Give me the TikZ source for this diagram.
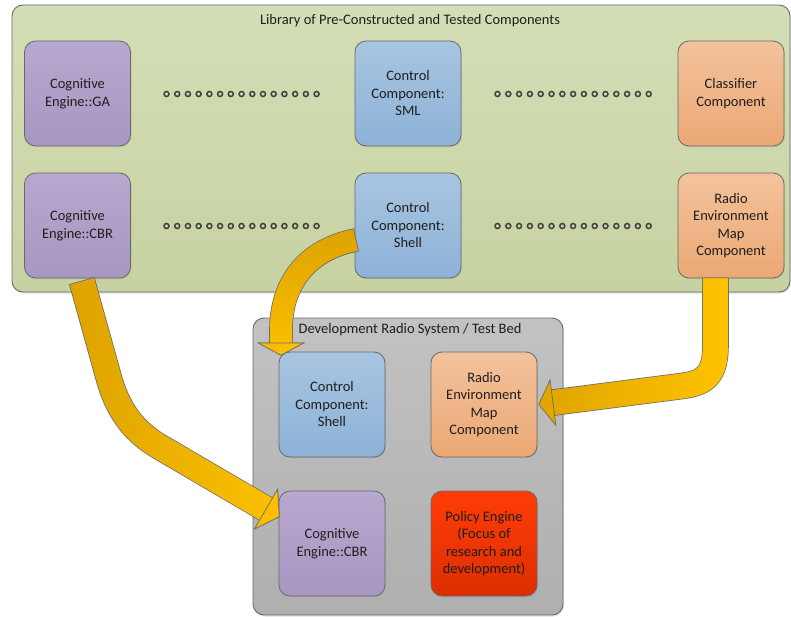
\documentclass[tikz,border=0pt]{standalone}
\usepackage{fontspec}
\setmainfont{Carlito}
\usetikzlibrary{arrows.meta,fadings,shadows,calc}

\definecolor{edge}{HTML}{6A6A6A}
\definecolor{txt}{HTML}{1E1E1E}
\definecolor{libtop}{HTML}{D4DEB6}
\definecolor{libbot}{HTML}{C7D2A2}
\definecolor{devtop}{HTML}{C2C2C2}
\definecolor{devbot}{HTML}{AFAFAF}
\definecolor{purtop}{HTML}{B8A8CF}
\definecolor{purbot}{HTML}{A797C1}
\definecolor{blutop}{HTML}{A8C5E1}
\definecolor{blubot}{HTML}{8DB2D7}
\definecolor{orgtop}{HTML}{F3C29C}
\definecolor{orgbot}{HTML}{EBA874}
\definecolor{redtop}{HTML}{FF3C06}
\definecolor{redbot}{HTML}{DD2E00}
\definecolor{darkgold}{HTML}{DEA300}
\definecolor{brightgold}{HTML}{FFC300}

\tikzset{
  label text/.style={font=\fontsize{14.5}{17.5}\selectfont, text=txt},
  container/.style={draw=edge, line width=0.9pt, rounded corners=11pt,
    drop shadow={shadow xshift=1pt, shadow yshift=-1.5pt, opacity=0.25}},
  comp/.style={draw=edge, line width=0.8pt, rounded corners=11pt,
    minimum width=106pt, minimum height=105pt, align=center, inner sep=2pt,
    label text,
    drop shadow={shadow xshift=1pt, shadow yshift=-1.2pt, opacity=0.2}},
  cogbox/.style={comp, top color=purtop, bottom color=purbot},
  ctrlbox/.style={comp, top color=blutop, bottom color=blubot},
  envbox/.style={comp, top color=orgtop, bottom color=orgbot},
  policybox/.style={comp, top color=redtop, bottom color=redbot},
  ellipsisdot/.style={draw=txt!85, line width=1.5pt},
  flowrim/.style={edge, line width=26.6pt, shorten <=-0.8pt},
  flowbase/.style={darkgold, line width=25pt,
    -{Triangle[length=#1, width=48pt, fill=darkgold, color=edge, line width=0.7pt]}},
  flowglow/.style={brightgold, line width=25pt,
    -{Triangle[length=#1, width=48pt, fill=brightgold, color=edge, line width=0.7pt]}},
}

\begin{document}
\begin{tikzpicture}[x=1pt, y=-1pt]
  \useasboundingbox (0,0) rectangle (791,617);

  % containers
  \node[container, top color=libtop, bottom color=libbot,
        minimum width=778pt, minimum height=287pt] (library) at (401,148.5) {};
  \node[label text] (libtitle) at (410,21) {Library of Pre-Constructed and Tested Components};

  \node[container, top color=devtop, bottom color=devbot,
        minimum width=310pt, minimum height=297pt] (devbed) at (408,466.5) {};
  \node[label text] (devtitle) at (410,330) {Development Radio System / Test Bed};

  % library components
  \node[cogbox]  (libga)    at (77.5,93.5)  {Cognitive\\Engine::GA};
  \node[ctrlbox] (libsml)   at (408,93.5)   {Control\\Component:\\SML};
  \node[envbox]  (libclass) at (731,93.5)   {Classifier\\Component};
  \node[cogbox]  (libcbr)   at (77.5,225.5) {Cognitive\\Engine::CBR};
  \node[ctrlbox] (libshell) at (408,225.5)  {Control\\Component:\\Shell};
  \node[envbox]  (librem)   at (731,225.5)  {Radio\\Environment\\Map\\Component};

  % rows of ellipsis dots
  \foreach \row in {94,226} {
    \foreach \i in {0,...,14} {
      \draw[ellipsisdot] (166.5+\i*10.72,\row) circle (2.5pt);
      \draw[ellipsisdot] (497.5+\i*10.8,\row) circle (2.5pt);
    }
  }

  % test bed components
  \node[ctrlbox]   (devshell)  at (332,404.5) {Control\\Component:\\Shell};
  \node[envbox]    (devrem)    at (484,404.5) {Radio\\Environment\\Map\\Component};
  \node[cogbox]    (devcbr)    at (332,543.5) {Cognitive\\Engine::CBR};
  \node[policybox] (devpolicy) at (484,543.5) {Policy Engine\\(Focus of\\research and\\development)};

  % arrow end points
  \coordinate (a1s) at ([shift={(4.5,3)}]libcbr.south);
  \coordinate (a1t) at ([shift={(1,-26.5)}]devcbr.west);
  \coordinate (a2s) at ([shift={(1,14.5)}]libshell.west);
  \coordinate (a2t) at ([shift={(-51,4)}]devshell.north);
  \coordinate (a3s) at ([shift={(-15.5,0)}]librem.south);
  \coordinate (a3t) at ([shift={(1,0)}]devrem.east);

  % CBR engine copied into the test bed
  \def\pathA{(a1s) -- (108,375) .. controls (118,413) and (136,433) .. (160,447) -- (a1t)}
  \draw[flowrim, shorten >=14pt] \pathA;
  \draw[flowbase=16pt] \pathA;
  \draw[flowglow=16pt, path fading=west] \pathA;

  % shell component copied into the test bed
  \def\pathB{(a2s) .. controls (305,250) and (281,285) .. (281,330) -- (a2t)}
  \draw[flowrim, line width=23.6pt, shorten >=12pt] \pathB;
  \draw[flowbase=13pt, line width=22pt] \pathB;
  \draw[flowglow=13pt, line width=22pt, path fading=north] \pathB;

  % radio environment map copied into the test bed
  \def\pathC{(a3s) -- (715.5,345) .. controls (715.5,375) and (705,383) .. (682,386) -- (a3t)}
  \draw[flowrim, shorten >=14pt] \pathC;
  \draw[flowbase=15pt] \pathC;
  \draw[flowglow=15pt, path fading=west] \pathC;
\end{tikzpicture}
\end{document}
